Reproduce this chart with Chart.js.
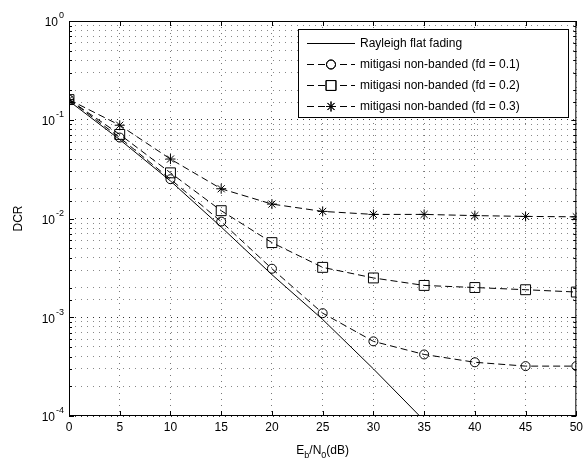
<!DOCTYPE html>
<html>
<head>
<meta charset="utf-8">
<script src="https://cdn.jsdelivr.net/npm/chart.js@4.4.1/dist/chart.umd.min.js"></script>
<style>
  html, body { margin: 0; padding: 0; background: #fff; }
  #wrap { width: 587px; height: 463px; }
</style>
</head>
<body>
<div id="wrap"><canvas id="dcr_chart" width="587" height="463"></canvas></div>
<script>
// Eb/N0 in dB
var snr_db = [0, 5, 10, 15, 20, 25, 30, 35, 40, 45, 50];
var rayleigh = [0.155, 0.063, 0.024, 0.0082, 0.0027, 0.00095, 0.0003, 0.00009, 0.00003, 0.00001, 0.000003];
var fd_01 = [0.16, 0.066, 0.025, 0.0093, 0.0031, 0.0011, 0.00057, 0.00042, 0.00035, 0.00032, 0.00032];
var fd_02 = [0.16, 0.071, 0.029, 0.012, 0.0057, 0.0032, 0.0025, 0.0021, 0.002, 0.0019, 0.0018];
var fd_03 = [0.16, 0.088, 0.04, 0.02, 0.014, 0.0118, 0.011, 0.011, 0.0107, 0.0105, 0.0104];
var series_names = ["Rayleigh flat fading", "mitigasi non-banded (fd = 0.1)", "mitigasi non-banded (fd = 0.2)", "mitigasi non-banded (fd = 0.3)"];
var y_decades = [0, -1, -2, -3, -4];

var font_name = "'Liberation Sans', Arial, sans-serif";

var to_points = (ys) => snr_db.map((x, i) => ({ x: x, y: ys[i] }));

var make_set = (label, ys, style, radius, dash) => {
    return {
        label: label,
        data: to_points(ys),
        borderColor: "#000",
        backgroundColor: "rgba(0,0,0,0)",
        borderWidth: 1,
        borderDash: dash,
        pointStyle: style,
        pointRadius: radius,
        pointBorderColor: "#000",
        pointBackgroundColor: "rgba(0,0,0,0)",
        pointBorderWidth: 1,
        tension: 0
    };
};

var datasets = [
    make_set(series_names[0], rayleigh, false, 0, []),
    make_set(series_names[1], fd_01, "circle", 4.5, [7, 4]),
    make_set(series_names[2], fd_02, "rect", 7, [7, 4]),
    make_set(series_names[3], fd_03, "star", 5, [7, 4])
];

// box, y labels with exponents, x title with subscripts, legend
var decor_plugin = {
    id: "decor",
    afterDraw: (chart) => {
        var ctx = chart.ctx;
        var area = chart.chartArea;
        var ys = chart.scales.y;
        var xs = chart.scales.x;
        ctx.save();
        ctx.strokeStyle = "#000";
        ctx.lineWidth = 1;
        ctx.setLineDash([]);
        ctx.strokeRect(area.left + 0.5, area.top + 0.5, area.right - area.left - 1, area.bottom - area.top - 1);

        // small inward ticks
        ctx.beginPath();
        ys.ticks.forEach((t) => {
            var py = Math.round(ys.getPixelForValue(t.value)) + 0.5;
            var lg = Math.log10(t.value);
            var len = Math.abs(lg - Math.round(lg)) < 1e-6 ? 5 : 3;
            ctx.moveTo(area.left, py); ctx.lineTo(area.left + len, py);
            ctx.moveTo(area.right, py); ctx.lineTo(area.right - len, py);
        });
        snr_db.forEach((v) => {
            var px = Math.round(xs.getPixelForValue(v)) + 0.5;
            ctx.moveTo(px, area.bottom); ctx.lineTo(px, area.bottom - 5);
            ctx.moveTo(px, area.top); ctx.lineTo(px, area.top + 5);
        });
        ctx.stroke();

        // y tick labels 10^n
        ctx.fillStyle = "#000";
        y_decades.forEach((d) => {
            var py = ys.getPixelForValue(Math.pow(10, d));
            ctx.textAlign = "left";
            ctx.textBaseline = "middle";
            var exp = String(d);
            ctx.font = "9px " + font_name;
            var ew = ctx.measureText(exp).width;
            ctx.font = "12px " + font_name;
            var bw = ctx.measureText("10").width;
            var x0 = area.left - 6 - ew - bw;
            ctx.fillText("10", x0, py + 2);
            ctx.font = "9px " + font_name;
            ctx.fillText(exp, x0 + bw + 1, py - 5);
        });

        // y title
        ctx.font = "12px " + font_name;
        ctx.save();
        ctx.translate(19, (area.top + area.bottom) / 2);
        ctx.rotate(-Math.PI / 2);
        ctx.textAlign = "center";
        ctx.textBaseline = "middle";
        ctx.fillText("DCR", 0, 0);
        ctx.restore();

        // x title E_b/N_0(dB)
        var parts = [["E", 0, 12], ["b", 4, 9], ["/N", 0, 12], ["0", 4, 9], ["(dB)", 0, 12]];
        var total = 0;
        parts.forEach((p) => { ctx.font = p[2] + "px " + font_name; total += ctx.measureText(p[0]).width; });
        var tx = (area.left + area.right) / 2 - total / 2;
        ctx.textAlign = "left";
        ctx.textBaseline = "alphabetic";
        parts.forEach((p) => {
            ctx.font = p[2] + "px " + font_name;
            ctx.fillText(p[0], tx, 454 + p[1]);
            tx += ctx.measureText(p[0]).width;
        });

        // legend
        var lx = 298, ly = 29, lw = 270, lh = 88;
        ctx.fillStyle = "#fff";
        ctx.fillRect(lx, ly, lw, lh);
        ctx.strokeStyle = "#000";
        ctx.strokeRect(lx + 0.5, ly + 0.5, lw, lh);
        chart.data.datasets.forEach((ds, i) => {
            var ry = 43 + i * 21;
            ctx.strokeStyle = "#000";
            ctx.lineWidth = 1;
            ctx.setLineDash(ds.borderDash);
            ctx.beginPath();
            ctx.moveTo(307, ry + 0.5);
            ctx.lineTo(355, ry + 0.5);
            ctx.stroke();
            ctx.setLineDash([]);
            if (ds.pointStyle) {
                ctx.fillStyle = "#fff";
                ctx.fillRect(325, ry - 5, 12, 11);
                Chart.helpers.drawPoint(ctx, { pointStyle: ds.pointStyle, radius: ds.pointRadius, rotation: 0, borderWidth: 1 }, 331, ry + 0.5);
                ctx.stroke();
            }
            ctx.fillStyle = "#000";
            ctx.font = "12px " + font_name;
            ctx.textBaseline = "middle";
            ctx.fillText(ds.label, 360, ry + 1);
        });
        ctx.restore();
    }
};

var grid_color = (c) => {
    var v = c.tick ? c.tick.value : 0;
    var lg = Math.log10(v);
    return Math.abs(lg - Math.round(lg)) < 1e-6 ? "#333" : "#888";
};

var config = {
    type: "line",
    data: { datasets: datasets },
    options: {
        responsive: false,
        animation: false,
        layout: { padding: { top: 21, right: 10, left: 0, bottom: 0 } },
        plugins: { legend: { display: false }, tooltip: { enabled: false } },
        scales: {
            x: {
                type: "linear",
                min: 0,
                max: 50,
                ticks: { stepSize: 5, color: "#000", font: { size: 12, family: font_name }, padding: 4 },
                grid: { color: "#777", tickLength: 0, drawTicks: false },
                border: { display: false, dash: [1, 5] },
                afterFit: (scale) => { scale.height = 47; }
            },
            y: {
                type: "logarithmic",
                min: 0.0001,
                max: 1,
                ticks: { display: false, autoSkip: false, callback: () => "" },
                grid: { color: grid_color, drawTicks: false },
                border: { display: false, dash: [1, 5] },
                afterFit: (scale) => { scale.width = 69; }
            }
        }
    },
    plugins: [decor_plugin]
};

var chart = new Chart(document.getElementById("dcr_chart"), config);
</script>
</body>
</html>
